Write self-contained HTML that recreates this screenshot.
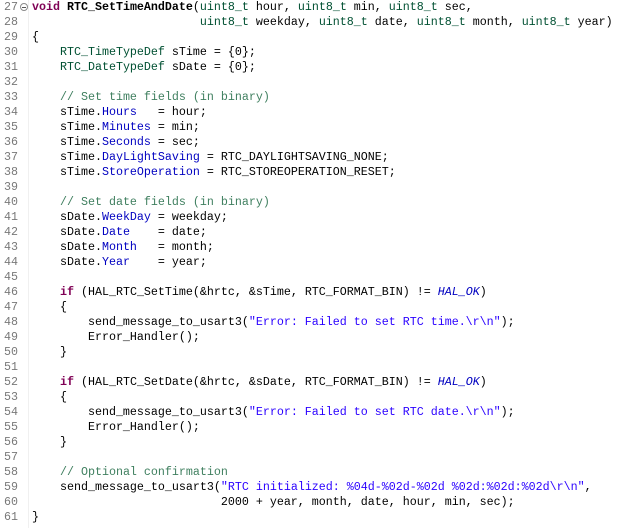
<!DOCTYPE html>
<html><head><meta charset="utf-8"><style>
html,body{margin:0;padding:0;background:#fff;width:622px;height:528px;overflow:hidden}
.g{position:absolute;left:28px;top:0;width:1px;height:528px;background:#f0f0f0}
pre{margin:0;position:absolute;top:0;left:0;font-family:"Liberation Mono",monospace;font-size:11.67px;line-height:15px;color:#000}
.n{display:inline-block;width:18px;text-align:right;color:#787878;margin-right:14px}
.k{color:#7f0055;font-weight:bold}
.b{font-weight:bold}
.t{color:#005032}
.f{color:#0000c0}
.i{color:#0000c0;font-style:italic}
.c{color:#3f7f5f}
.s{color:#2a00ff}
.fold{position:absolute;left:20px;top:3px;width:8px;height:8px;border:1px solid #8a8a8a;border-radius:50%;box-sizing:border-box;background:#fff}
.fold:after{content:"";position:absolute;left:1px;top:3px;width:4px;height:1px;background:#555}
</style></head><body>
<div class="g"></div>
<pre><span class="n">27</span><span class="k">void</span> <span class="b">RTC_SetTimeAndDate</span>(<span class="t">uint8_t</span> hour, <span class="t">uint8_t</span> min, <span class="t">uint8_t</span> sec,
<span class="n">28</span>                        <span class="t">uint8_t</span> weekday, <span class="t">uint8_t</span> date, <span class="t">uint8_t</span> month, <span class="t">uint8_t</span> year)
<span class="n">29</span>{
<span class="n">30</span>    <span class="t">RTC_TimeTypeDef</span> sTime = {0};
<span class="n">31</span>    <span class="t">RTC_DateTypeDef</span> sDate = {0};
<span class="n">32</span>
<span class="n">33</span>    <span class="c">// Set time fields (in binary)</span>
<span class="n">34</span>    sTime.<span class="f">Hours</span>   = hour;
<span class="n">35</span>    sTime.<span class="f">Minutes</span> = min;
<span class="n">36</span>    sTime.<span class="f">Seconds</span> = sec;
<span class="n">37</span>    sTime.<span class="f">DayLightSaving</span> = RTC_DAYLIGHTSAVING_NONE;
<span class="n">38</span>    sTime.<span class="f">StoreOperation</span> = RTC_STOREOPERATION_RESET;
<span class="n">39</span>
<span class="n">40</span>    <span class="c">// Set date fields (in binary)</span>
<span class="n">41</span>    sDate.<span class="f">WeekDay</span> = weekday;
<span class="n">42</span>    sDate.<span class="f">Date</span>    = date;
<span class="n">43</span>    sDate.<span class="f">Month</span>   = month;
<span class="n">44</span>    sDate.<span class="f">Year</span>    = year;
<span class="n">45</span>
<span class="n">46</span>    <span class="k">if</span> (HAL_RTC_SetTime(&amp;hrtc, &amp;sTime, RTC_FORMAT_BIN) != <span class="i">HAL_OK</span>)
<span class="n">47</span>    {
<span class="n">48</span>        send_message_to_usart3(<span class="s">"Error: Failed to set RTC time.\r\n"</span>);
<span class="n">49</span>        Error_Handler();
<span class="n">50</span>    }
<span class="n">51</span>
<span class="n">52</span>    <span class="k">if</span> (HAL_RTC_SetDate(&amp;hrtc, &amp;sDate, RTC_FORMAT_BIN) != <span class="i">HAL_OK</span>)
<span class="n">53</span>    {
<span class="n">54</span>        send_message_to_usart3(<span class="s">"Error: Failed to set RTC date.\r\n"</span>);
<span class="n">55</span>        Error_Handler();
<span class="n">56</span>    }
<span class="n">57</span>
<span class="n">58</span>    <span class="c">// Optional confirmation</span>
<span class="n">59</span>    send_message_to_usart3(<span class="s">"RTC initialized: %04d-%02d-%02d %02d:%02d:%02d\r\n"</span>,
<span class="n">60</span>                           2000 + year, month, date, hour, min, sec);
<span class="n">61</span>}
</pre>
<div class="fold"></div>
</body></html>
